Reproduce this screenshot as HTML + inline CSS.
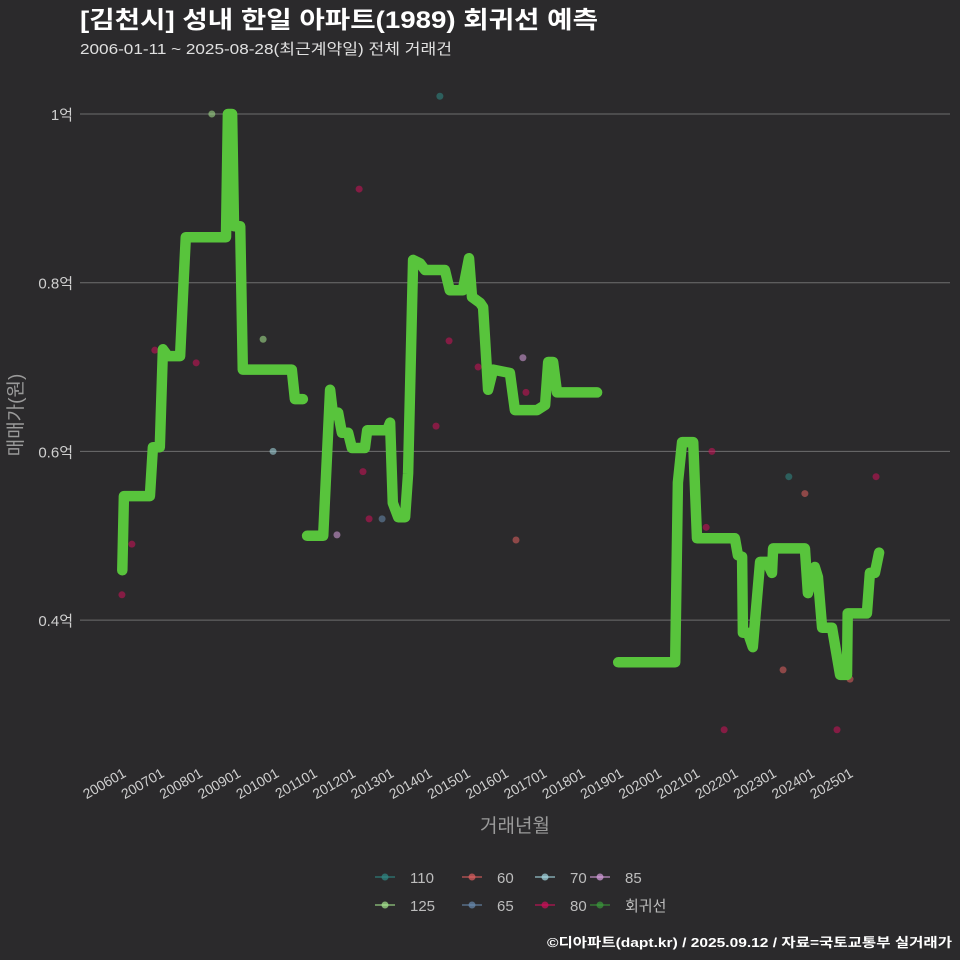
<!DOCTYPE html>
<html><head><meta charset="utf-8"><style>
body{margin:0;background:#2b2a2c;}
svg{display:block;font-family:"Liberation Sans","Noto Sans CJK KR",sans-serif;}
</style></head><body>
<svg id="c" width="960" height="960">
<rect width="960" height="960" fill="#2b2a2c"/>
<text x="80" y="28" fill="#ffffff" font-size="24" font-weight="bold" textLength="518" lengthAdjust="spacingAndGlyphs">[김천시] 성내 한일 아파트(1989) 회귀선 예측</text>
<text x="80" y="54" fill="#e0e0e0" font-size="15" textLength="372" lengthAdjust="spacingAndGlyphs">2006-01-11 ~ 2025-08-28(최근계약일) 전체 거래건</text>
<text x="952" y="947" fill="#ffffff" font-size="13" font-weight="bold" text-anchor="end" textLength="405" lengthAdjust="spacingAndGlyphs">©디아파트(dapt.kr) / 2025.09.12 / 자료=국토교통부 실거래가</text>
<text transform="translate(22,415) rotate(-90)" fill="#9a9a9a" font-size="19" text-anchor="middle">매매가(원)</text>
<text x="515" y="832" fill="#9a9a9a" font-size="19" text-anchor="middle">거래년월</text>
<g id="grid"></g><g id="pts"></g><g id="line"></g><g id="xt"></g><g id="legend"></g>
</svg>
<script>
const yTicks=[1.0,0.8,0.6,0.4];
const yTickLabels=["1억","0.8억","0.6억","0.4억"];
const xTicks=[2006,2007,2008,2009,2010,2011,2012,2013,2014,2015,2016,2017,2018,2019,2020,2021,2022,2023,2024,2025];
const xTickLabels=["200601","200701","200801","200901","201001","201101","201201","201301","201401","201501","201601","201701","201801","201901","202001","202101","202201","202301","202401","202501"];
const lineT1=[2005.93,2005.97,2006.65,2006.73,2006.91,2006.99,2007.12,2007.44,2007.54,2007.59,2008.64,2008.69,2008.80,2008.85,2009.01,2009.08,2010.36,2010.44,2010.65];
const lineV1=[0.459,0.547,0.547,0.605,0.605,0.721,0.713,0.713,0.809,0.854,0.854,1.0,1.0,0.867,0.867,0.697,0.697,0.662,0.662];
const lineT2=[2010.76,2011.18,2011.36,2011.44,2011.57,2011.67,2011.83,2011.93,2012.27,2012.33,2012.85,2012.93,2013.00,2013.14,2013.32,2013.40,2013.53,2013.71,2013.84,2014.36,2014.49,2014.83,2014.99,2015.07,2015.28,2015.36,2015.49,2015.62,2016.06,2016.19,2016.77,2016.98,2017.06,2017.19,2017.29,2018.34];
const lineV2=[0.500,0.500,0.673,0.643,0.646,0.622,0.622,0.604,0.604,0.625,0.625,0.634,0.539,0.522,0.522,0.574,0.827,0.823,0.815,0.815,0.791,0.791,0.829,0.783,0.776,0.771,0.673,0.697,0.693,0.649,0.649,0.655,0.706,0.706,0.670,0.670];
const lineT3=[2018.89,2020.38,2020.45,2020.56,2020.85,2020.95,2021.94,2022.02,2022.13,2022.15,2022.28,2022.41,2022.60,2022.78,2022.91,2022.94,2023.77,2023.85,2024.03,2024.11,2024.22,2024.48,2024.69,2024.87,2024.89,2025.39,2025.47,2025.60,2025.71];
const lineV3=[0.350,0.350,0.563,0.611,0.611,0.497,0.497,0.477,0.475,0.385,0.385,0.368,0.469,0.469,0.456,0.485,0.485,0.432,0.463,0.451,0.391,0.391,0.335,0.335,0.408,0.408,0.456,0.456,0.480];
const ptT=[2005.92,2006.18,2006.78,2007.86,2008.27,2009.61,2009.87,2012.12,2012.22,2011.54,2012.38,2012.72,2014.23,2014.13,2014.47,2015.23,2016.40,2016.48,2016.22,2021.34,2021.19,2021.66,2023.20,2023.35,2023.77,2024.61,2024.95,2025.63];
const ptV=[0.430,0.490,0.720,0.705,1.0,0.733,0.600,0.911,0.576,0.501,0.520,0.520,1.021,0.630,0.731,0.700,0.711,0.670,0.495,0.600,0.510,0.270,0.341,0.570,0.550,0.270,0.330,0.570];
const ptArea=["80","80","80","80","125","125","70","80","80","85","80","65","110","80","80","80","85","80","60","80","80","80","60","110","60","80","60","80"];
const legendKeys=["110","60","70","85","125","65","80","회귀선"];
const colors={"110":"#2f8a86","60":"#e06060","70":"#a8dce6","85":"#d8a0e0","125":"#a8e890","65":"#6a8cb0","80":"#d0105a","회귀선":"#3a9a3a"};
const NS="http://www.w3.org/2000/svg";
const X=t=>125+(t-2006)*38.26;
const Y=v=>114+(1-v)*843.5;
function mk(tag,attrs,parent){const e=document.createElementNS(NS,tag);for(const k in attrs)e.setAttribute(k,attrs[k]);parent.appendChild(e);return e;}
const grid=document.getElementById('grid');
yTicks.forEach((v,i)=>{
 const l=mk('line',{x1:80,x2:950,y1:Y(v),y2:Y(v),stroke:'#6e6e6e','stroke-width':1},grid);
 
 
 const t=mk('text',{x:73,y:Y(v)+6,fill:'#cfcfcf','font-size':15,'text-anchor':'end'},grid);
 t.textContent=yTickLabels[i];
 
 
});
const xt=document.getElementById('xt');
xTicks.forEach((v,i)=>{
 const t=mk('text',{transform:`translate(${X(v)+2},${776}) rotate(-30)`,fill:'#cfcfcf','font-size':14,'text-anchor':'end'},xt);
 t.textContent=xTickLabels[i];
 
 
});
const pts=document.getElementById('pts');
ptT.forEach((t,i)=>{
 const c=mk('circle',{cx:X(t),cy:Y(ptV[i]),r:3.5,fill:colors[ptArea[i]],opacity:0.55},pts);
 
 
});
const lg=document.getElementById('line');
[[lineT1,lineV1],[lineT2,lineV2],[lineT3,lineV3]].forEach(([ts,vs],k)=>{
 const d=ts.map((t,i)=>(i?'L':'M')+X(t).toFixed(1)+','+Y(vs[i]).toFixed(1)).join(' ');
 const p=mk('path',{d:d,fill:'none',stroke:'#58c43c','stroke-width':10.5,'stroke-linejoin':'round','stroke-linecap':'round'},lg);
 
 
});
const leg=document.getElementById('legend');
const lx=[385,472,545,600];
legendKeys.forEach((k,i)=>{
 const row=Math.floor(i/4),col=i%4;
 const x=lx[col],y=877+row*28;
 const g=mk('g',{},leg);
 
 
 mk('line',{x1:x-10,x2:x+10,y1:y,y2:y,stroke:colors[k],'stroke-width':1.5,opacity:0.7},g);
 mk('circle',{cx:x,cy:y,r:3.5,fill:colors[k],opacity:0.7},g);
 const t=mk('text',{x:x+25,y:y+6,fill:'#bdbdbd','font-size':15},g);
 t.textContent=k;
});
</script>
</body></html>
